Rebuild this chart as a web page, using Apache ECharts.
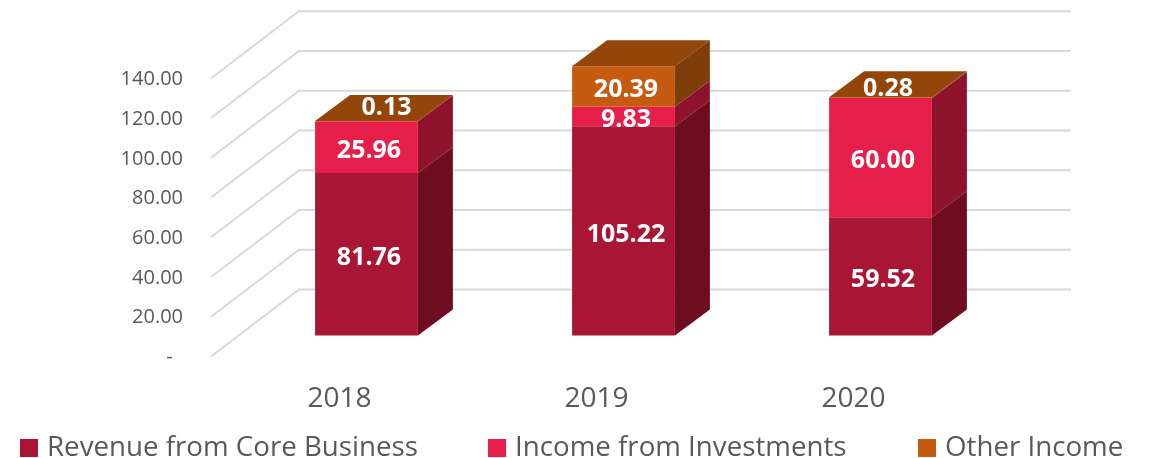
<!DOCTYPE html>
<html>
<head>
<meta charset="utf-8">
<style>
  html, body { margin: 0; padding: 0; background: #fff; }
  #chart { width: 1153px; height: 458px; }
</style>
<script src="https://cdn.jsdelivr.net/npm/echarts@6/dist/echarts.min.js"></script>
</head>
<body>
<div id="chart"></div>
<script>
const years = ["2018", "2019", "2020"];
const coreBusiness = [81.76, 105.22, 59.52];
const investments = [25.96, 9.83, 60.0];
const otherIncome = [0.13, 20.39, 0.28];
const axisTicks = [0, 20, 40, 60, 80, 100, 120, 140];

const FONT = '"Open Sans", sans-serif';
const DEPTH = [35, -26]; // bar side/top skew
const WALL = [61, -46]; // bar plane -> back wall
const FLOOR = [-27, 21]; // bar plane -> front edge of the floor

// the two thin "other" labels were dragged onto the top face
const topFaceLabels = { 0: [20, -14], 2: [7.5, -9] };

const chart = echarts.init(document.getElementById("chart"));

function wallLines(params, api) {
  const grid = params.coordSys;
  const y = api.coord([0, api.value(0)])[1];
  return {
    type: "polyline",
    silent: true,
    shape: {
      points: [
        [grid.x + FLOOR[0], y + FLOOR[1]],
        [grid.x + WALL[0], y + WALL[1]],
        [grid.x + grid.width + WALL[0] + 1, y + WALL[1]],
      ],
    },
    style: { fill: null, stroke: "#D9D9D9", lineWidth: 2 },
  };
}

function box(colors, hasTop) {
  return function (params, api) {
    const i = api.value(0);
    const value = api.value(1);
    const base = api.value(2);
    const low = api.coord([i, base]);
    const high = api.coord([i, base + value]);
    const w = api.size([1, 0])[0] * 0.4;
    const x0 = low[0] - w / 2;
    const x1 = low[0] + w / 2;
    const dx = DEPTH[0];
    const dy = DEPTH[1];

    const children = [
      {
        type: "polygon",
        shape: {
          points: [
            [x1, low[1]],
            [x1 + dx, low[1] + dy],
            [x1 + dx, high[1] + dy],
            [x1, high[1]],
          ],
        },
        style: { fill: colors.side },
      },
      {
        type: "rect",
        shape: { x: x0, y: high[1], width: w, height: low[1] - high[1] },
        style: { fill: colors.front },
      },
    ];
    if (hasTop) {
      children.push({
        type: "polygon",
        shape: {
          points: [
            [x0, high[1]],
            [x0 + dx, high[1] + dy],
            [x1 + dx, high[1] + dy],
            [x1, high[1]],
          ],
        },
        style: { fill: colors.top },
      });
    }

    let lx = low[0] + 2.5;
    let ly = (low[1] + high[1]) / 2 + 3.5;
    if (hasTop && topFaceLabels[i]) {
      lx = low[0] + topFaceLabels[i][0];
      ly = high[1] + topFaceLabels[i][1] + 1;
    }
    children.push({
      type: "text",
      z2: 10,
      style: {
        text: value.toFixed(2),
        x: lx,
        y: ly,
        align: "center",
        verticalAlign: "middle",
        fill: "#fff",
        fontFamily: FONT,
        fontWeight: "bold",
        fontSize: 25,
      },
    });
    return { type: "group", children: children };
  };
}

function stackedData(values, below) {
  return values.map((v, i) => {
    let base = 0;
    below.forEach((arr) => (base += arr[i]));
    return [i, v, base];
  });
}

function legendAt(name, left) {
  return {
    data: [name],
    left: left,
    top: 429,
    icon: "rect",
    itemWidth: 18,
    itemHeight: 18,
    textStyle: {
      color: "#595959",
      fontFamily: FONT,
      fontSize: 27.7,
      padding: [0, 0, 0, 4],
    },
  };
}

chart.setOption({
  animation: false,
  backgroundColor: "#fff",
  legend: [
    legendAt("Revenue from Core Business", 15),
    legendAt("Income from Investments", 483),
    legendAt("Other Income", 913),
  ],
  grid: [
    // plane the bars stand on
    { left: 238, top: 57.2, width: 771, height: 278.3 },
    // front edge of the floor, carries the axis labels
    { left: 211, top: 79.5, width: 771, height: 278 },
  ],
  xAxis: [
    { type: "category", gridIndex: 0, show: false, data: years },
    {
      type: "category",
      gridIndex: 1,
      data: years,
      axisLine: { show: false },
      axisTick: { show: false },
      axisLabel: {
        margin: 28,
        color: "#595959",
        fontFamily: FONT,
        fontSize: 28,
      },
    },
  ],
  yAxis: [
    {
      type: "value",
      gridIndex: 0,
      min: 0,
      max: 140,
      interval: 20,
      show: false,
      splitLine: { show: false },
    },
    {
      type: "value",
      gridIndex: 1,
      min: 0,
      max: 140,
      interval: 20,
      axisLine: { show: false },
      axisTick: { show: false },
      splitLine: { show: false },
      axisLabel: {
        margin: 28,
        color: "#595959",
        fontFamily: FONT,
        fontSize: 20,
        formatter: (v) => (v === 0 ? "-  " : v.toFixed(2)),
      },
    },
  ],
  series: [
    {
      type: "custom",
      name: "walls",
      silent: true,
      encode: { y: 0 },
      data: axisTicks.map((t) => [t]),
      renderItem: wallLines,
    },
    {
      type: "custom",
      name: "Revenue from Core Business",
      itemStyle: { color: "#A91535" },
      encode: { x: 0, y: 1 },
      data: stackedData(coreBusiness, []),
      renderItem: box({ front: "#A91535", side: "#6E0C20" }, false),
    },
    {
      type: "custom",
      name: "Income from Investments",
      itemStyle: { color: "#E61F4A" },
      encode: { x: 0, y: 1 },
      data: stackedData(investments, [coreBusiness]),
      renderItem: box({ front: "#E61F4A", side: "#8F122D" }, false),
    },
    {
      type: "custom",
      name: "Other Income",
      itemStyle: { color: "#C55A11" },
      encode: { x: 0, y: 1 },
      data: stackedData(otherIncome, [coreBusiness, investments]),
      renderItem: box({ front: "#C55A11", side: "#7F3D0B", top: "#94460A" }, true),
    },
  ],
});
</script>
</body>
</html>
